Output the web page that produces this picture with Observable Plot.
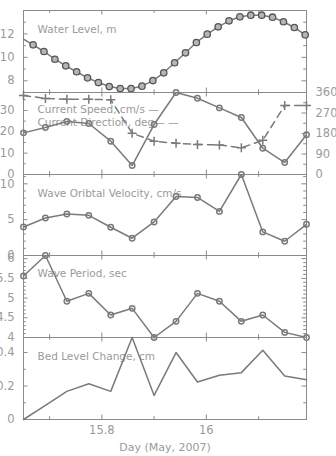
<!DOCTYPE html>
<html>
<head>
<meta charset="utf-8">
<script src="https://cdn.jsdelivr.net/npm/d3@7"></script>
<script src="https://cdn.jsdelivr.net/npm/@observablehq/plot@0.6"></script>
<style>
  html, body { margin: 0; padding: 0; background: #fff; }
  #chart { position: relative; width: 336px; height: 456px; overflow: hidden; }
  #chart svg { position: absolute; left: 0; overflow: visible; }
</style>
</head>
<body>
<div id="chart"></div>
<script>
// Hourly observation times (day of May 2007)
const hours = [15.650, 15.692, 15.733, 15.775, 15.817, 15.858, 15.900, 15.942, 15.983, 16.025, 16.067, 16.108, 16.150, 16.1917];

// Half-hourly water level record
const tideTimes = [15.6476, 15.6684, 15.6892, 15.7101, 15.7309, 15.7517, 15.7726, 15.7934, 15.8142, 15.8351,
  15.8559, 15.8767, 15.8976, 15.9184, 15.9392, 15.9601, 15.9809, 16.0017, 16.0226, 16.0434,
  16.0642, 16.0851, 16.1059, 16.1267, 16.1476, 16.1684, 16.1892];
const waterLevel = [11.62, 11.07, 10.50, 9.84, 9.28, 8.77, 8.25, 7.85, 7.51, 7.34,
  7.34, 7.54, 8.02, 8.68, 9.54, 10.39, 11.27, 11.98, 12.61, 13.12,
  13.46, 13.60, 13.60, 13.43, 13.04, 12.55, 11.92];

// Hourly series
const currentSpeed = [19.5, 22.0, 24.8, 23.9, 15.6, 4.2, 23.4, 38.4, 35.7, 31.2, 26.7, 12.3, 5.6, 18.6];
const currentDirection = [347, 334, 330, 330, 328, 181, 146, 137, 132, 130, 117, 150, 303, 303];
const orbitalVelocity = [3.98, 5.23, 5.79, 5.60, 3.94, 2.41, 4.68, 8.24, 8.10, 6.15, 11.3, 3.29, 1.99, 4.35];
const wavePeriod = [5.56, 6.08, 4.92, 5.12, 4.57, 4.74, 4.00, 4.41, 5.12, 4.92, 4.41, 4.57, 4.13, 4.00];
const bedChange = [0.0, 0.084, 0.168, 0.214, 0.168, 0.49, 0.144, 0.40, 0.224, 0.264, 0.28, 0.414, 0.26, 0.238];

// Axis ticks
const xMajor = [15.8, 16.0];
const xMinor = [15.7, 15.9, 16.1];
const xLabel = "Day (May, 2007)";

const rows = hours.map((t, i) => ({
  t,
  speed: currentSpeed[i],
  dir: currentDirection[i],
  orb: orbitalVelocity[i],
  period: wavePeriod[i],
  bed: bedChange[i]
}));
const tide = tideTimes.map((t, i) => ({t, level: waterLevel[i]}));

const lineColor = "#7a7a7a";
const frameColor = "#8a8a8a";
const textColor = "#9a9a9a";
const font = "DejaVu Sans, sans-serif";
const fmt = d3.format("~g");

const W = 336, ML = 23, MR = 30;
const innerW = W - ML - MR;
const majorLen = 4.5, minorLen = 2.8;
const chart = document.getElementById("chart");

function tickMarks({h, yMajor, yMinor, left = true, right = true, xTicks = true}) {
  const m = [];
  if (left) {
    m.push(Plot.ruleY(yMajor, {stroke: frameColor, insetRight: innerW - majorLen}));
    m.push(Plot.ruleY(yMinor, {stroke: frameColor, insetRight: innerW - minorLen}));
  }
  if (right) {
    m.push(Plot.ruleY(yMajor, {stroke: frameColor, insetLeft: innerW - majorLen}));
    m.push(Plot.ruleY(yMinor, {stroke: frameColor, insetLeft: innerW - minorLen}));
  }
  if (xTicks) {
    m.push(Plot.ruleX(xMajor, {stroke: frameColor, insetBottom: h - majorLen}));
    m.push(Plot.ruleX(xMinor, {stroke: frameColor, insetBottom: h - minorLen}));
    m.push(Plot.ruleX(xMajor, {stroke: frameColor, insetTop: h - majorLen}));
    m.push(Plot.ruleX(xMinor, {stroke: frameColor, insetTop: h - minorLen}));
  }
  return m;
}

function panel({top, h, yDomain, marks, bottomAxis = false}) {
  const mt = 10, mb = bottomAxis ? 37 : 10;
  const svg = Plot.plot({
    width: W,
    height: h + mt + mb,
    marginLeft: ML,
    marginRight: MR,
    marginTop: mt,
    marginBottom: mb,
    x: {domain: d3.extent(hours), axis: bottomAxis ? undefined : null},
    y: {domain: yDomain},
    style: {fontFamily: font, fontSize: "11px", color: textColor, background: "transparent", overflow: "visible"},
    marks
  });
  svg.style.top = (top - mt) + "px";
  chart.appendChild(svg);
}

function yLabels(ticks, anchor = "left") {
  return Plot.axisY({ticks, anchor, tickSize: 0, tickPadding: 9, label: null, fill: textColor, fontSize: 11.5, tickFormat: fmt});
}

function caption(text, dy) {
  return Plot.text([text], {frameAnchor: "top-left", dx: 14, dy, textAnchor: "start", fill: textColor, fontSize: 10.5});
}

// Water level
{
  const h = 82, yMajor = [8, 10, 12], yMinor = [7, 9, 11, 13];
  panel({top: 10, h, yDomain: [7, 14], marks: [
    Plot.frame({stroke: frameColor}),
    ...tickMarks({h, yMajor, yMinor}),
    yLabels(yMajor),
    caption("Water Level, m", 15),
    Plot.line(tide, {x: "t", y: "level", stroke: lineColor, clip: true}),
    Plot.dot(tide.slice(1), {x: "t", y: "level", r: 3.2, stroke: "#555", strokeWidth: 1.3, fill: "#b5b5b5"})
  ]});
}

// Current speed (left axis) and direction (right axis)
{
  const h = 82, yMajor = [0, 10, 20, 30], yMinor = [5, 15, 25, 35];
  panel({top: 92, h, yDomain: [0, d3.max(currentSpeed)], marks: [
    Plot.frame({stroke: frameColor}),
    ...tickMarks({h, yMajor, yMinor, right: false}),
    yLabels(yMajor),
    caption("Current Speed, cm/s \u2014", 12.7),
    caption("Current Direction, deg\u2014 \u2014", 26.3),
    Plot.line(rows, {x: "t", y: "speed", stroke: lineColor}),
    Plot.dot(rows, {x: "t", y: "speed", r: 2.7, stroke: lineColor, fill: "none"})
  ]});
  const dMajor = [0, 90, 180, 270, 360], dMinor = [45, 135, 225, 315];
  panel({top: 92, h, yDomain: [0, 360], marks: [
    ...tickMarks({h, yMajor: dMajor, yMinor: dMinor, left: false, xTicks: false}),
    yLabels(dMajor, "right"),
    Plot.line(rows, {x: "t", y: "dir", stroke: lineColor, strokeDasharray: "7,5"}),
    Plot.dot(rows, {x: "t", y: "dir", symbol: "plus", r: 3, stroke: lineColor})
  ]});
}

// Wave orbital velocity
{
  const h = 81, yMajor = [0, 5, 10], yMinor = [1, 2, 3, 4, 6, 7, 8, 9, 11];
  panel({top: 174, h, yDomain: [0, d3.max(orbitalVelocity)], marks: [
    Plot.frame({stroke: frameColor}),
    ...tickMarks({h, yMajor, yMinor}),
    yLabels(yMajor),
    caption("Wave Oribtal Velocity, cm/s", 14.7),
    Plot.line(rows, {x: "t", y: "orb", stroke: lineColor}),
    Plot.dot(rows, {x: "t", y: "orb", r: 2.7, stroke: lineColor, fill: "none"})
  ]});
}

// Wave period
{
  const h = 82, yMajor = [4, 4.5, 5, 5.5, 6], yMinor = [4.1, 4.2, 4.3, 4.4, 4.6, 4.7, 4.8, 4.9, 5.1, 5.2, 5.3, 5.4, 5.6, 5.7, 5.8, 5.9];
  panel({top: 255, h, yDomain: [4, d3.max(wavePeriod)], marks: [
    Plot.frame({stroke: frameColor}),
    ...tickMarks({h, yMajor, yMinor}),
    yLabels(yMajor),
    caption("Wave Period, sec", 14.3),
    Plot.line(rows, {x: "t", y: "period", stroke: lineColor}),
    Plot.dot(rows, {x: "t", y: "period", r: 2.7, stroke: lineColor, fill: "none"})
  ]});
}

// Bed level change
{
  const h = 82, yMajor = [0, 0.2, 0.4], yMinor = [0.1, 0.3];
  panel({top: 337, h, yDomain: [0, d3.max(bedChange)], bottomAxis: true, marks: [
    Plot.frame({stroke: frameColor}),
    ...tickMarks({h, yMajor, yMinor}),
    yLabels(yMajor),
    Plot.axisX({ticks: xMajor, tickSize: 0, tickPadding: 6, label: null, fill: textColor, fontSize: 11.5, tickFormat: fmt}),
    Plot.text([xLabel], {frameAnchor: "bottom", dy: 31.7, fill: textColor, fontSize: 11}),
    caption("Bed Level Change, cm", 14.7),
    Plot.line(rows, {x: "t", y: "bed", stroke: lineColor})
  ]});
}
</script>
</body>
</html>
